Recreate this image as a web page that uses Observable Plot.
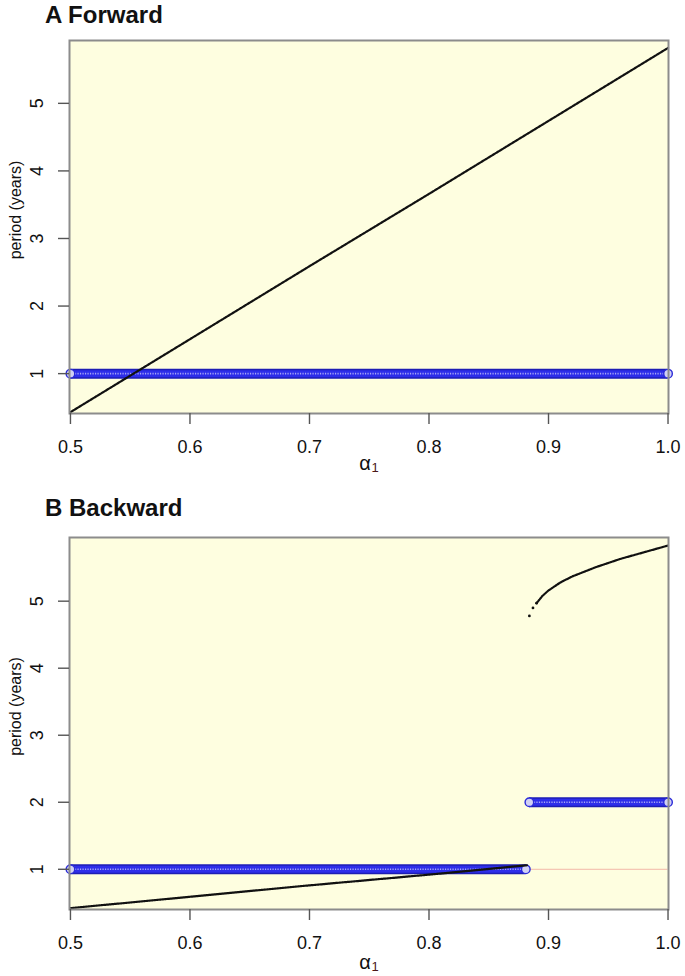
<!DOCTYPE html>
<html><head><meta charset="utf-8">
<script src="https://cdn.jsdelivr.net/npm/d3@7"></script>
<script src="https://cdn.jsdelivr.net/npm/@observablehq/plot@0.6"></script>
<style>
body{margin:0;background:#fff;width:685px;height:976px;overflow:hidden;font-family:"Liberation Sans",Arial,sans-serif}
.title{font-weight:bold;font-size:24px;padding-left:45px;color:#111;white-space:nowrap}
svg{display:block}
</style></head><body>
<div class="title" style="height:30px;line-height:30px">A Forward</div>
<div id="pA"></div>
<div class="title" style="height:37px;line-height:35px">B Backward</div>
<div id="pB"></div>
<script>
// ---- data ----
const xTicks = [0.5, 0.6, 0.7, 0.8, 0.9, 1.0];
const xTickLabels = ["0.5", "0.6", "0.7", "0.8", "0.9", "1.0"];
const yTicks = [1, 2, 3, 4, 5];
const yTickLabels = ["1", "2", "3", "4", "5"];

// Panel A (forward): black dotted series
const alphaA = [0.5, 0.6, 0.7, 0.8, 0.9, 1.0];
const periodA = [0.43, 1.51, 2.59, 3.66, 4.74, 5.82];
// Panel A blue-circle band
const bandA_start = [0.5];
const bandA_end = [1.0];
const bandA_period = [1];

// Panel B (backward): lower black branch
const alphaB1 = [0.5, 0.6, 0.7, 0.8, 0.882];
const periodB1 = [0.42, 0.59, 0.76, 0.92, 1.06];
// Panel B upper black branch (first few samples are separate dots)
const alphaB2 = [0.884, 0.887, 0.890, 0.895, 0.90, 0.91, 0.92, 0.93, 0.94, 0.95, 0.96, 0.97, 0.98, 0.99, 1.0];
const periodB2 = [4.78, 4.90, 4.97, 5.08, 5.16, 5.28, 5.37, 5.44, 5.51, 5.57, 5.63, 5.68, 5.73, 5.78, 5.83];
// Panel B blue-circle bands
const bandB_start = [0.5, 0.884];
const bandB_end = [0.881, 1.0];
const bandB_period = [1, 2];
// faint reference line in panel B
const refB_start = [0.5];
const refB_end = [1.0];
const refB_period = [1];

const zip = (xs, ys) => xs.map((x, i) => ({x, y: ys[i]}));
const bands = (s, e, p) => s.map((v, i) => ({x1: v, x2: e[i], y: p[i]}));

function panel({height, marginBottom, yDomain, series, loose, bandData, refData, titleDy}) {
  const ends = bandData.flatMap(d => [{x: d.x1, y: d.y}, {x: d.x2, y: d.y}]);
  const xt = xTicks.map((x, i) => ({x, t: xTickLabels[i]}));
  const yt = yTicks.map((y, i) => ({y, t: yTickLabels[i]}));
  const marks = [
    Plot.frame({fill: "#FEFEE0", stroke: null}),
    ...(refData ? [Plot.ruleY(refData, {x1: "x1", x2: "x2", y: "y", stroke: "#F2B8A8", strokeWidth: 1})] : []),
    Plot.ruleY(bandData, {x1: "x1", x2: "x2", y: "y", stroke: "#1E1EB4", strokeWidth: 10}),
    Plot.ruleY(bandData, {x1: "x1", x2: "x2", y: "y", stroke: "#2E2EEA", strokeWidth: 7}),
    Plot.ruleY(bandData, {x1: "x1", x2: "x2", y: "y", stroke: "#A8A8F4", strokeWidth: 1.6, strokeDasharray: "1.2,1.3"}),
    Plot.dot(ends, {x: "x", y: "y", r: 4.3, stroke: "#2A2AD8", strokeWidth: 1.4, fill: "#D0D0F4"}),
    ...series.map(s =>
      Plot.line(s, {x: "x", y: "y", stroke: "#111", strokeWidth: 2.2, strokeDasharray: "1.8,0.8"})),
    ...(loose ? [Plot.dot(loose, {x: "x", y: "y", r: 1.4, fill: "#111"})] : []),
    Plot.frame({stroke: "#8C8C8C", strokeWidth: 2}),
    Plot.axisX({ticks: xTicks, tickSize: 11, tickFormat: () => "", label: null, stroke: "#555", strokeWidth: 1.4}),
    Plot.axisY({ticks: yTicks, tickSize: 11, tickFormat: () => "", label: null, stroke: "#555", strokeWidth: 1.4}),
    Plot.text(xt, {x: "x", text: "t", frameAnchor: "bottom", dy: 34, lineAnchor: "middle", fontSize: 18, fill: "#111"}),
    Plot.text(yt, {y: "y", text: "t", frameAnchor: "left", dx: -32, rotate: -90, textAnchor: "middle", lineAnchor: "middle", fontSize: 18, fill: "#111"}),
    Plot.text(["period (years)"], {frameAnchor: "left", dx: -54, dy: -17, rotate: -90, textAnchor: "middle", lineAnchor: "middle", fontSize: 16, fill: "#111"}),
    Plot.text(["α"], {frameAnchor: "bottom", dy: titleDy, dx: -4, lineAnchor: "middle", fontSize: 20, fill: "#111"}),
    Plot.text(["1"], {frameAnchor: "bottom", dy: titleDy + 4, dx: 6, lineAnchor: "middle", fontSize: 13, fill: "#4A1818"})
  ];
  return Plot.plot({
    width: 685, height,
    marginTop: 10, marginBottom, marginLeft: 69, marginRight: 17,
    style: {fontFamily: "'Liberation Sans', Arial, sans-serif", background: "transparent", overflow: "visible"},
    x: {domain: [0.4992, 1.0004]},
    y: {domain: yDomain},
    marks
  });
}

const upper = zip(alphaB2, periodB2);
document.getElementById("pA").append(panel({
  height: 460, marginBottom: 77, yDomain: [0.41, 5.93],
  series: [zip(alphaA, periodA)], loose: null,
  bandData: bands(bandA_start, bandA_end, bandA_period),
  refData: null, titleDy: 50
}));
document.getElementById("pB").append(panel({
  height: 449, marginBottom: 67, yDomain: [0.40, 5.95],
  series: [zip(alphaB1, periodB1), upper.slice(2)], loose: upper.slice(0, 3),
  bandData: bands(bandB_start, bandB_end, bandB_period),
  refData: bands(refB_start, refB_end, refB_period), titleDy: 53
}));
</script>
</body></html>
